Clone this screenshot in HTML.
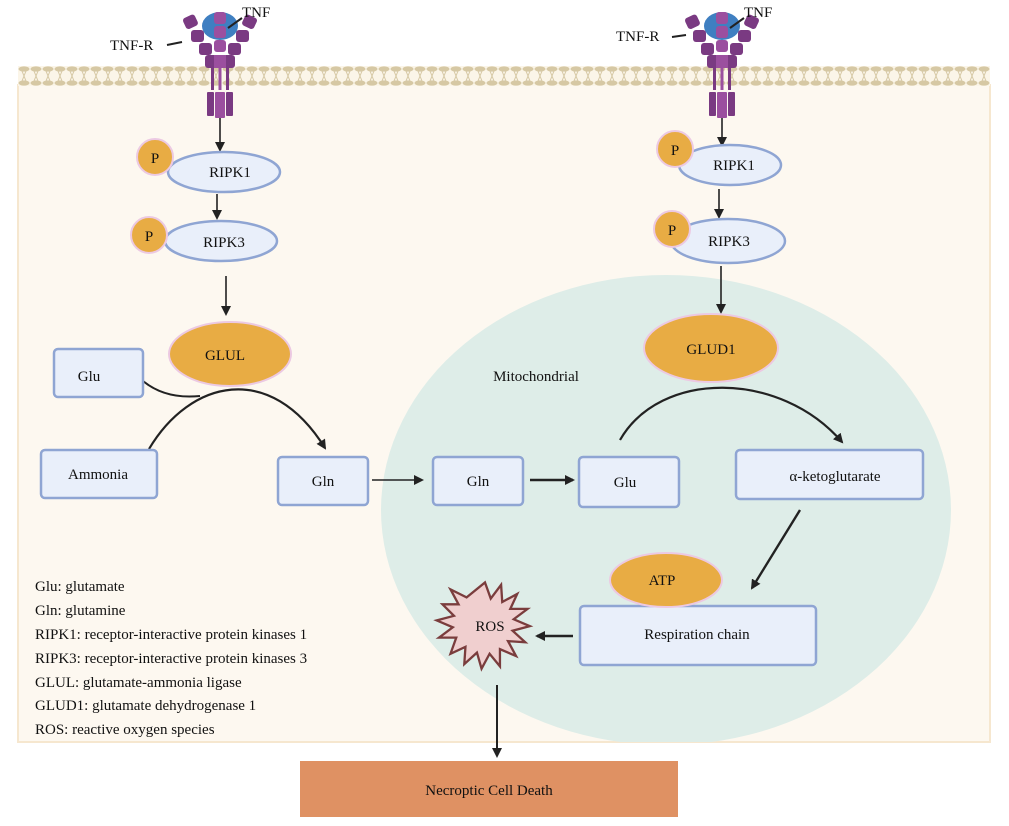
<!DOCTYPE html>
<html><head><style>
body{margin:0;background:#fff}
svg text{font-family:"Liberation Serif",serif;fill:#111}
</style></head><body>
<svg width="1009" height="821" viewBox="0 0 1009 821" xmlns="http://www.w3.org/2000/svg">
<defs>
<marker id="ah" markerWidth="10" markerHeight="10" refX="8" refY="5" orient="auto" markerUnits="userSpaceOnUse"><path d="M0,0 L10,5 L0,10 z" fill="#222"/></marker>
<pattern id="mem" x="18" y="66" width="12" height="20" patternUnits="userSpaceOnUse">
<rect width="12" height="20" fill="#fbf5e8"/>
<ellipse cx="6" cy="3" rx="5.5" ry="2.6" fill="#d6c8a4"/>
<ellipse cx="6" cy="17" rx="5.5" ry="2.6" fill="#d6c8a4"/>
<path d="M4,5 L6,10 L4,15 M8,5 L6,10 L8,15" stroke="#d6c8a4" stroke-width="1" fill="none"/>
</pattern>
<clipPath id="cell"><rect x="18" y="85" width="972" height="657"/></clipPath>
<g id="rec">
<ellipse cx="0" cy="26" rx="18" ry="14" fill="#3f7fc1"/>
<rect x="-36" y="16" width="13" height="12" rx="3" fill="#7a3a82" transform="rotate(-25 -30 22)"/>
<rect x="23" y="16" width="13" height="12" rx="3" fill="#7a3a82" transform="rotate(25 30 22)"/>
<rect x="-29" y="30" width="13" height="12" rx="3" fill="#7a3a82"/>
<rect x="16" y="30" width="13" height="12" rx="3" fill="#7a3a82"/>
<rect x="-21" y="43" width="13" height="12" rx="3" fill="#7a3a82"/>
<rect x="8" y="43" width="13" height="12" rx="3" fill="#7a3a82"/>
<rect x="-6" y="12" width="12" height="12" rx="3" fill="#9b4f9f"/>
<rect x="-6" y="26" width="12" height="12" rx="3" fill="#9b4f9f"/>
<rect x="-6" y="40" width="12" height="12" rx="3" fill="#9b4f9f"/>
<rect x="-15" y="55" width="30" height="13" rx="3" fill="#7a3a82"/>
<rect x="-6" y="55" width="12" height="13" fill="#9b4f9f"/>
<rect x="-9" y="68" width="3" height="22" fill="#7a3a82"/>
<rect x="6" y="68" width="3" height="22" fill="#7a3a82"/>
<rect x="-1.5" y="68" width="3" height="22" fill="#9b4f9f"/>
<rect x="-13" y="92" width="7" height="24" rx="1" fill="#7a3a82"/>
<rect x="6" y="92" width="7" height="24" rx="1" fill="#7a3a82"/>
<rect x="-5" y="92" width="10" height="26" rx="1" fill="#9b4f9f"/>
</g>
</defs>
<rect x="18" y="85" width="972" height="657" fill="#fdf8f0" stroke="#f6e7cf" stroke-width="2"/>
<rect x="18" y="66" width="972" height="20" fill="url(#mem)"/>
<ellipse cx="666" cy="510" rx="285" ry="235" fill="#deede8" clip-path="url(#cell)"/>

<use href="#rec" x="220" y="0"/>
<use href="#rec" x="722" y="0"/>
<text x="242" y="17" font-size="15">TNF</text>
<line x1="228" y1="28" x2="242" y2="18" stroke="#222" stroke-width="2"/>
<text x="110" y="50" font-size="15">TNF-R</text>
<line x1="167" y1="45" x2="182" y2="42" stroke="#222" stroke-width="2"/>
<text x="744" y="17" font-size="15">TNF</text>
<line x1="730" y1="28" x2="744" y2="18" stroke="#222" stroke-width="2"/>
<text x="616" y="41" font-size="15">TNF-R</text>
<line x1="672" y1="37" x2="686" y2="35" stroke="#222" stroke-width="2"/>

<g stroke="#222" stroke-width="1.6" fill="none" marker-end="url(#ah)">
<line x1="220" y1="118" x2="220" y2="150"/>
<line x1="217" y1="194" x2="217" y2="218"/>
<line x1="226" y1="276" x2="226" y2="314"/>
<line x1="722" y1="118" x2="722" y2="145"/>
<line x1="719" y1="189" x2="719" y2="217"/>
<line x1="721" y1="266" x2="721" y2="312"/>
<line x1="372" y1="480" x2="422" y2="480"/>
<line x1="530" y1="480" x2="573" y2="480" stroke-width="2.4"/>
<path d="M149,449 C190,380 270,360 325,448" stroke-width="2.2"/>
<path d="M620,440 C660,370 780,370 842,442" stroke-width="2.2"/>
<line x1="800" y1="510" x2="752" y2="588" stroke-width="2.4"/>
<line x1="573" y1="636" x2="537" y2="636" stroke-width="2.4"/>
<line x1="497" y1="685" x2="497" y2="756" stroke-width="2"/>
</g>
<path d="M143,381 C160,395 180,398 200,396" stroke="#222" stroke-width="2" fill="none"/>

<g fill="#e9effa" stroke="#8fa5d3" stroke-width="2.5">
<ellipse cx="224" cy="172" rx="56" ry="20"/>
<ellipse cx="221" cy="241" rx="56" ry="20"/>
<ellipse cx="730" cy="165" rx="51" ry="20"/>
<ellipse cx="728" cy="241" rx="57" ry="22"/>
<rect x="54" y="349" width="89" height="48" rx="4"/>
<rect x="41" y="450" width="116" height="48" rx="4"/>
<rect x="278" y="457" width="90" height="48" rx="4"/>
<rect x="433" y="457" width="90" height="48" rx="4"/>
<rect x="579" y="457" width="100" height="50" rx="4"/>
<rect x="736" y="450" width="187" height="49" rx="4"/>
<rect x="580" y="606" width="236" height="59" rx="4"/>
</g>
<g fill="#e8ac44" stroke="#ecc9e2" stroke-width="2">
<circle cx="155" cy="157" r="18"/>
<circle cx="149" cy="235" r="18"/>
<circle cx="675" cy="149" r="18"/>
<circle cx="672" cy="229" r="18"/>
<ellipse cx="230" cy="354" rx="61" ry="32"/>
<ellipse cx="711" cy="348" rx="67" ry="34"/>
<ellipse cx="666" cy="580" rx="56" ry="27"/>
</g>
<g transform="translate(485,625) scale(1.15) translate(-485,-625)">
<path d="M485,588 l5,14 l9,-12 l1,15 l13,-7 l-6,13 l15,0 l-12,9 l14,6 l-15,4 l11,10 l-15,-1 l7,13 l-14,-6 l0,15 l-9,-11 l-7,13 l-4,-14 l-11,10 l1,-15 l-13,6 l5,-14 l-15,0 l12,-9 l-14,-6 l15,-4 l-10,-10 l14,0 l-7,-13 l14,7 z" fill="#f0cfcf" stroke="#7a3d3d" stroke-width="2"/>
</g>
<g font-size="15" text-anchor="middle">
<text x="155" y="163">P</text><text x="149" y="241">P</text>
<text x="675" y="155">P</text><text x="672" y="235">P</text>
<text x="230" y="177">RIPK1</text><text x="224" y="247">RIPK3</text>
<text x="734" y="170">RIPK1</text><text x="729" y="246">RIPK3</text>
<text x="225" y="360">GLUL</text><text x="711" y="354">GLUD1</text>
<text x="89" y="381">Glu</text><text x="98" y="479">Ammonia</text>
<text x="323" y="486">Gln</text><text x="478" y="486">Gln</text>
<text x="625" y="487">Glu</text><text x="835" y="481">α-ketoglutarate</text>
<text x="536" y="381">Mitochondrial</text>
<text x="662" y="585">ATP</text><text x="697" y="639">Respiration chain</text>
<text x="490" y="631">ROS</text>
</g>
<rect x="300" y="761" width="378" height="56" fill="#df9163"/>
<text x="489" y="795" font-size="15" text-anchor="middle">Necroptic Cell Death</text>
<g font-size="15">
<text x="35" y="591">Glu: glutamate</text>
<text x="35" y="615">Gln: glutamine</text>
<text x="35" y="639">RIPK1: receptor-interactive protein kinases 1</text>
<text x="35" y="663">RIPK3: receptor-interactive protein kinases 3</text>
<text x="35" y="687">GLUL: glutamate-ammonia ligase</text>
<text x="35" y="710">GLUD1: glutamate dehydrogenase 1</text>
<text x="35" y="734">ROS: reactive oxygen species</text>
</g>
</svg>
</body></html>
